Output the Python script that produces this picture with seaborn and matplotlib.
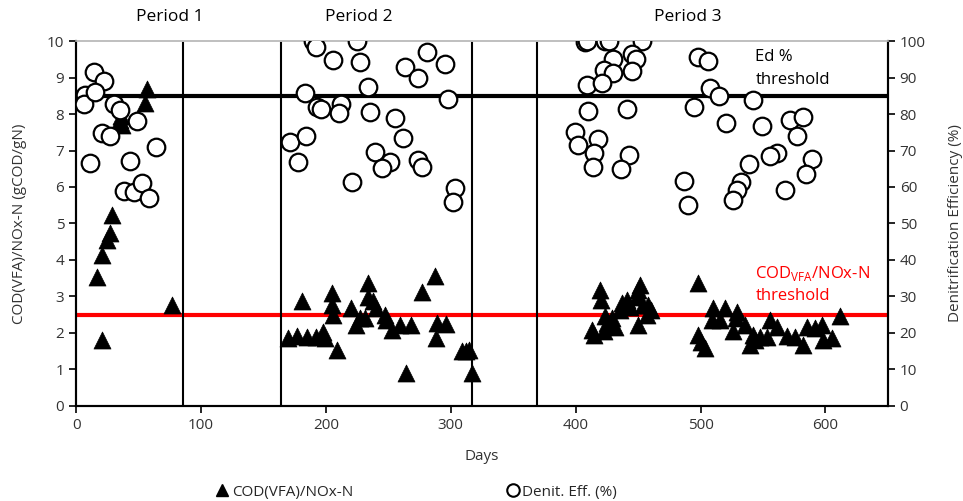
import matplotlib.pyplot as plt
import numpy as np
import pandas as pd
import seaborn as sns
from matplotlib.lines import Line2D

sns.set_theme(style="white")
plt.rcParams["font.family"] = ["Open Sans", "DejaVu Sans"]
plt.rcParams["mathtext.fontset"] = "custom"
plt.rcParams["mathtext.rm"] = "Open Sans"

# COD(VFA)/NOx-N ratio (left axis)
cod_days = [57, 55, 35, 37, 36, 29, 27, 25, 21, 17, 21, 77,
            170, 177, 185, 192, 197.5, 199, 181, 205, 205, 206, 209, 220, 224, 227,
            231, 234, 233.5, 238, 240, 247, 248, 253, 259, 268, 264, 277, 287, 289,
            296, 288, 309, 315, 317, 312,
            419.5, 420, 413, 415, 423.5, 425, 422.7, 431.5, 429, 437, 435.5, 441,
            443.5, 449, 451.6, 450, 454, 458, 460, 457, 450,
            498, 498, 500, 503.6, 510, 509, 519.6, 515.6, 529, 528, 535.6, 526,
            541.8, 539.6, 543.6, 547.6, 553.5, 555.6, 561, 569, 575.7, 581.8, 585,
            591.7, 597, 598.4, 612, 605]
cod_vals = [8.68, 8.29, 7.84, 7.70, 7.95, 5.23, 4.73, 4.55, 4.14, 3.54, 1.81, 2.77,
            1.85, 1.92, 1.88, 1.90, 2.01, 1.85, 2.86, 3.09, 2.77, 2.49, 1.53, 2.68, 2.22, 2.40,
            2.40, 3.36, 2.99, 2.86, 2.68, 2.49, 2.36, 2.08, 2.22, 2.22, 0.90, 3.13, 3.56, 2.27,
            2.25, 1.85, 1.49, 1.53, 0.91, 1.49,
            3.18, 2.90, 2.08, 1.95, 2.45, 2.27, 2.04, 2.17, 2.40, 2.81, 2.63, 2.90,
            2.72, 2.99, 3.32, 3.18, 2.77, 2.77, 2.63, 2.49, 2.22,
            3.36, 1.95, 1.76, 1.58, 2.68, 2.36, 2.68, 2.36, 2.58, 2.40, 2.22, 2.04,
            1.95, 1.67, 1.81, 1.88, 1.88, 2.36, 2.17, 1.92, 1.88, 1.67, 2.17,
            2.13, 2.22, 1.81, 2.45, 1.85]

# Denitrification efficiency % (right axis)
eff_days = [14, 22, 7, 6, 15, 30, 35, 49, 21, 27, 64, 11, 43, 38, 46, 53, 58,
            190, 192, 225, 206, 227, 281, 295, 263, 274, 233.5, 183, 298, 193, 196,
            212, 210.5, 235, 255, 261.5, 171, 184, 177.5, 239, 251, 245, 273.5, 277,
            221, 303.5, 301.5,
            407.5, 409, 423.5, 427, 453, 430, 445, 448, 423, 430, 445, 409, 421, 410,
            441, 399.5, 401.7, 417.7, 415, 413.7, 442.7, 436,
            497.7, 505.7, 507.6, 515, 542, 494.8, 520, 549, 571.6, 582, 577, 561,
            556, 589, 584.5, 539, 532.4, 529.4, 526, 487, 490, 568]
eff_vals = [91.6, 89.1, 85.2, 82.7, 86.1, 82.7, 81.1, 78.1, 74.9, 74.0, 71.0, 66.5, 67.1,
            59.0, 58.7, 61.0, 56.9,
            100, 98.4, 100, 94.8, 94.2, 97.1, 93.7, 93.0, 90.0, 87.3, 85.8, 84.1, 82.0, 81.3,
            82.7, 80.4, 80.5, 79.0, 73.5, 72.4, 74.0, 66.8, 69.5, 66.8, 65.3, 67.4, 65.6,
            61.5, 59.8, 56.0,
            99.8, 100, 100, 100, 100, 95.0, 96.4, 95.2, 92.1, 91.3, 91.8, 87.9, 88.4, 80.9,
            81.4, 75.2, 71.5, 73.1, 69.4, 65.4, 68.8, 64.8,
            95.7, 94.6, 87.0, 84.9, 83.8, 81.8, 77.6, 76.8, 78.4, 79.1, 74.0, 69.2,
            68.5, 67.6, 63.6, 66.2, 61.5, 59.2, 56.4, 61.7, 55.1, 59.2]

period_bounds = [86, 164, 317, 369]
period_labels = ["Period 1", "Period 2", "Period 3"]
period_label_x = [75, 226, 490]

cod_df = pd.DataFrame({"Days": cod_days, "COD": cod_vals})
eff_df = pd.DataFrame({"Days": eff_days, "Eff": eff_vals})

fig = plt.figure(figsize=(9.63, 5.01), dpi=100)
ax = fig.add_axes([0.079, 0.19, 0.843, 0.728])
ax2 = ax.twinx()

ax.axhline(8.5, color="black", lw=3, zorder=1)
ax.axhline(2.5, color="#ff0000", lw=3, zorder=1)
for b in period_bounds:
    ax.axvline(b, color="black", lw=1.5, zorder=1)

sns.scatterplot(data=cod_df, x="Days", y="COD", ax=ax, marker="^", s=150,
                color="black", edgecolor="black", linewidth=0.5, zorder=3)
sns.scatterplot(data=eff_df, x="Days", y="Eff", ax=ax2, marker="o", s=160,
                facecolor="white", edgecolor="black", linewidth=1.6, zorder=3)

ax.set_xlim(0, 650)
ax.set_ylim(0, 10)
ax2.set_ylim(0, 100)
ax.set_xticks(np.arange(0, 700, 100))
ax.set_yticks(np.arange(0, 11, 1))
ax2.set_yticks(np.arange(0, 110, 10))

ax.set_xlabel("Days", fontsize=11, color="#333333", labelpad=12)
ax.set_ylabel("COD(VFA)/NOx-N (gCOD/gN)", fontsize=11, color="#333333", labelpad=14)
ax2.set_ylabel("Denitrification Efficiency (%)", fontsize=11, color="#333333",
               labelpad=16)

for a in (ax, ax2):
    a.tick_params(axis="both", labelsize=11, labelcolor="#333333", direction="out",
                  length=5, width=1.2, color="black")
    for s in ("left", "right", "bottom"):
        a.spines[s].set_color("black")
        a.spines[s].set_linewidth(1.5)
    a.spines["top"].set_color("#bfbfbf")
    a.spines["top"].set_linewidth(1.2)
ax.tick_params(axis="x", bottom=True)
ax.tick_params(axis="y", left=True)
ax2.tick_params(axis="y", right=True)

for lab, xp in zip(period_labels, period_label_x):
    ax.text(xp, 10.45, lab, ha="center", va="bottom", fontsize=12.5, color="black")

ax.text(544, 8.72, "Ed %\nthreshold", fontsize=12, color="black", va="bottom",
        linespacing=1.55)
ax.text(544, 2.78, "COD$_{\\mathrm{VFA}}$/NOx-N\nthreshold", fontsize=12,
        color="#ff0000", va="bottom", linespacing=1.45)

handles = [
    Line2D([], [], marker="^", color="black", ls="none", markersize=9),
    Line2D([], [], marker="o", markerfacecolor="white", markeredgecolor="black",
           markeredgewidth=1.5, ls="none", markersize=9),
]
fig.legend(handles, ["COD(VFA)/NOx-N", "Denit. Eff. (%)"], loc="lower center",
           bbox_to_anchor=(0.432, -0.025), ncol=2, frameon=False, fontsize=11,
           handletextpad=0.1, columnspacing=10, handlelength=1.0)

fig.savefig("out.png", dpi=100)
